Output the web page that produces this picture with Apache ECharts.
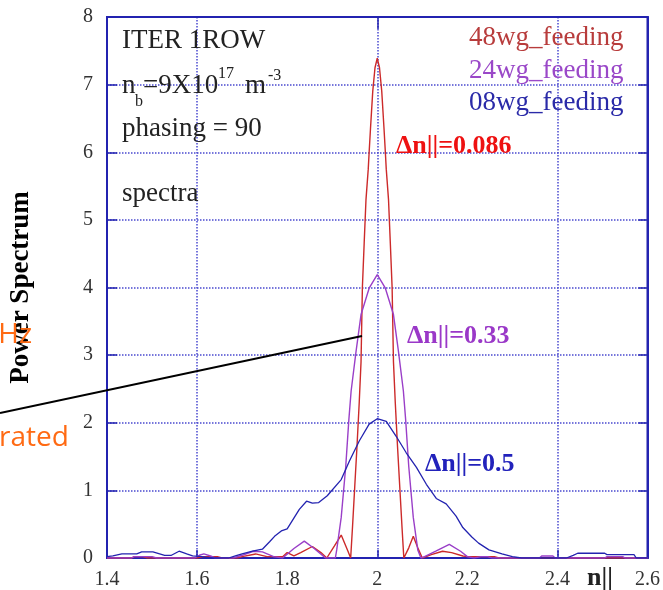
<!DOCTYPE html>
<html><head><meta charset="utf-8">
<script src="https://cdn.jsdelivr.net/npm/echarts@6/dist/echarts.min.js"></script>
<style>html,body{margin:0;padding:0;background:#fff}#c{width:663px;height:590px}</style>
</head><body><div id="c"></div>
<script>
// ---- data ----
const xTickValues = [1.4, 1.6, 1.8, 2.0, 2.2, 2.4, 2.6];
const yTickValues = [0, 1, 2, 3, 4, 5, 6, 7, 8];

// 48wg_feeding (red)
const redN = [1.40,1.455,1.46,1.48,1.49,1.60,1.615,1.645,1.655,1.69,1.70,1.73,1.755,1.79,1.80,1.815,1.83,1.856,1.875,1.888,1.905,1.92,1.935,1.941,
  1.945,1.95,1.955,1.96,1.964,1.967,1.971,1.975,1.98,1.982,1.985,1.99,1.995,2.0,2.005,2.01,2.015,2.018,2.02,2.025,2.029,2.033,2.036,2.04,2.045,2.05,2.055,2.059,
  2.07,2.08,2.09,2.10,2.12,2.145,2.165,2.19,2.20,2.26,2.27,2.60];
const redP = [0,0,0.02,0.02,0,0,0.02,0.02,0,0,0.02,0.06,0.02,0.02,0.08,0.03,0.08,0.17,0.08,0,0.18,0.34,0.1,0,
  0.45,1.05,1.65,2.3,2.9,4.0,4.66,5.3,5.75,6.0,6.35,6.9,7.25,7.39,7.25,6.9,6.35,6.0,5.75,5.3,4.66,4.0,2.9,2.3,1.65,1.05,0.45,0,
  0.15,0.32,0.15,0,0.05,0.1,0.08,0.03,0.02,0.02,0,0];

// 24wg_feeding (purple)
const purN = [1.40,1.455,1.46,1.50,1.51,1.595,1.605,1.615,1.63,1.64,1.68,1.70,1.725,1.745,1.77,1.79,1.815,1.838,1.86,1.885,1.907,
  1.91,1.92,1.93,1.937,1.942,1.953,1.964,1.982,2.0,2.018,2.036,2.047,2.058,2.063,2.07,2.08,2.09,2.097,
  2.105,2.13,2.16,2.185,2.20,2.215,2.23,2.245,2.255,2.36,2.365,2.39,2.395,2.505,2.51,2.545,2.55,2.60];
const purP = [0,0,0.02,0.02,0,0,0.04,0.06,0.03,0,0,0.04,0.1,0.09,0.02,0,0.14,0.25,0.14,0,0,
  0.12,0.6,1.35,2.05,2.47,3.06,3.6,3.99,4.19,3.99,3.6,3.06,2.47,2.05,1.35,0.6,0.12,0,
  0.02,0.1,0.2,0.1,0.02,0,0.02,0.02,0,0,0.03,0.03,0,0,0.02,0.02,0,0];

// 08wg_feeding (blue)
const bluN = [1.40,1.413,1.433,1.466,1.477,1.502,1.528,1.543,1.56,1.577,1.59,1.61,1.63,1.67,1.685,1.70,1.723,1.745,1.761,1.772,1.787,1.80,
  1.827,1.843,1.856,1.87,1.889,1.92,1.938,1.96,1.982,2.0,2.02,2.042,2.064,2.087,2.109,2.131,2.153,2.175,2.19,2.21,2.225,2.248,2.277,2.30,2.32,
  2.42,2.435,2.445,2.505,2.51,2.57,2.575,2.60];
const bluP = [0.02,0.03,0.06,0.06,0.09,0.09,0.04,0.04,0.1,0.06,0.03,0.02,0,0,0.03,0.06,0.1,0.13,0.24,0.32,0.40,0.43,
  0.72,0.84,0.81,0.82,0.92,1.16,1.43,1.73,1.98,2.06,2.02,1.8,1.56,1.34,1.09,0.88,0.8,0.62,0.45,0.31,0.22,0.12,0.06,0.02,0,
  0,0.04,0.07,0.07,0.05,0.05,0,0];

const seriesNames = ['48wg_feeding', '24wg_feeding', '08wg_feeding'];
const seriesColors = ['#cc2a2a', '#9a3fc8', '#2323b0'];
const labelColors = ['#b83c3c', '#9a48c8', '#2a2aa8'];

const pairs = (xs, ys) => xs.map((x, i) => [x, ys[i]]);

const serif = 'Liberation Serif';
const blue = '#2323b0';
const grid = '#4a4ad0';

const chart = echarts.init(document.getElementById('c'), null, {renderer: 'canvas'});

function txt(text, x, y, size, color, opts) {
  opts = opts || {};
  return {
    type: 'text', x: x, y: y, z: 100,
    style: {
      text: text, fill: color, font: (opts.bold ? 'bold ' : '') + size + 'px "' + (opts.family || serif) + '"',
      textAlign: opts.align || 'left', textVerticalAlign: 'middle', verticalAlign: 'middle'
    }
  };
}

chart.setOption({
  animation: false,
  backgroundColor: '#fff',
  grid: {left: 107, top: 17, right: 14, bottom: 31, show: true, borderColor: blue, borderWidth: 2, backgroundColor: 'transparent'},
  xAxis: [{
    type: 'value', min: 1.4, max: 2.6, interval: 0.2, position: 'bottom',
    axisLine: {show: true, onZero: false, lineStyle: {color: blue, width: 2}},
    axisTick: {show: true, inside: true, length: 8, customValues: [1.6, 2.0, 2.4], lineStyle: {color: blue, width: 1.5}},
    axisLabel: {color: '#333', fontFamily: serif, fontSize: 20, margin: 12, customValues: xTickValues, formatter: v => String(+v.toFixed(1))},
    splitLine: {show: true, lineStyle: {color: grid, type: 'dotted', width: 1.5}}
  }, {
    type: 'value', min: 1.4, max: 2.6, interval: 0.2, position: 'top',
    axisLine: {show: true, onZero: false, lineStyle: {color: blue, width: 2}},
    axisTick: {show: true, inside: true, length: 12, customValues: [2.0], lineStyle: {color: blue, width: 1.5}},
    axisLabel: {show: false}, splitLine: {show: false}
  }],
  yAxis: [{
    type: 'value', min: 0, max: 8, interval: 1, position: 'left',
    name: 'Power Spectrum', nameLocation: 'middle', nameGap: 72,
    nameTextStyle: {fontFamily: serif, fontWeight: 'bold', fontSize: 27, color: '#000'},
    axisLine: {show: true, onZero: false, lineStyle: {color: blue, width: 2}},
    axisTick: {show: true, inside: true, length: 10, lineStyle: {color: blue, width: 1.5}},
    axisLabel: {color: '#333', fontFamily: serif, fontSize: 20, margin: 14, customValues: yTickValues},
    splitLine: {show: true, lineStyle: {color: grid, type: 'dotted', width: 1.5}}
  }, {
    type: 'value', min: 0, max: 8, interval: 1, position: 'right',
    axisLine: {show: true, onZero: false, lineStyle: {color: blue, width: 2}},
    axisTick: {show: true, inside: true, length: 9, lineStyle: {color: blue, width: 1.5}},
    axisLabel: {show: false}, splitLine: {show: false}
  }],
  series: [
    {name: seriesNames[0], type: 'line', data: pairs(redN, redP), showSymbol: false, color: seriesColors[0], lineStyle: {width: 1.4, color: seriesColors[0]}, z: 3},
    {name: seriesNames[1], type: 'line', data: pairs(purN, purP), showSymbol: false, color: seriesColors[1], lineStyle: {width: 1.4, color: seriesColors[1]}, z: 4},
    {name: seriesNames[2], type: 'line', data: pairs(bluN, bluP), showSymbol: false, color: seriesColors[2], lineStyle: {width: 1.3, color: seriesColors[2]}, z: 5}
  ],
  graphic: [
    txt('ITER 1ROW', 122, 41, 27, '#222'),
    txt('n', 122, 86, 27, '#222'),
    txt('b', 135, 102, 16, '#222'),
    txt('=9X10', 143, 86, 27, '#222'),
    txt('17', 218, 74, 16, '#222'),
    txt('m', 245, 86, 27, '#222'),
    txt('-3', 268, 76, 16, '#222'),
    txt('phasing = 90', 122, 129, 27, '#222'),
    txt('spectra', 122, 194, 27, '#222'),
    txt(seriesNames[0], 469, 38, 27, labelColors[0]),
    txt(seriesNames[1], 469, 71, 27, labelColors[1]),
    txt(seriesNames[2], 469, 103, 27, labelColors[2]),
    txt('\u0394n||=0.086', 396, 146, 26, '#ee1111', {bold: true}),
    txt('\u0394n||=0.33', 407, 336, 26, '#9a38c8', {bold: true}),
    txt('\u0394n||=0.5', 425, 464, 26, '#2222bb', {bold: true}),
    txt('n||', 600, 578, 26, '#222', {bold: true, align: 'center'}),
    txt('Hz', 32, 335, 28, '#ff6a13', {family: 'Open Sans', align: 'right'}),
    txt('rated', -1, 438, 28, '#ff6a13', {family: 'Open Sans'}),
    {type: 'line', z: 100, shape: {x1: 0, y1: 413, x2: 362, y2: 336}, style: {stroke: '#000', lineWidth: 2}}
  ]
});
</script>
</body></html>
